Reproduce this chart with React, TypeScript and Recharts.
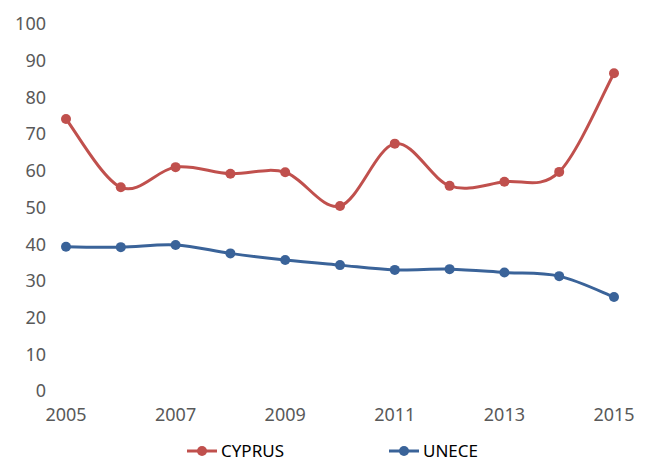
import React from "react";
import { LineChart, Line, XAxis, YAxis, Legend } from "recharts";

const years = [2005, 2006, 2007, 2008, 2009, 2010, 2011, 2012, 2013, 2014, 2015];
const cyprus = [74.1, 55.5, 61.0, 59.2, 59.6, 50.4, 67.4, 55.9, 57.0, 59.7, 86.6];
const unece = [39.3, 39.2, 39.8, 37.5, 35.7, 34.3, 33.0, 33.2, 32.3, 31.3, 25.6];
const xTicks = [2005, 2007, 2009, 2011, 2013, 2015];
const yTicks = [0, 10, 20, 30, 40, 50, 60, 70, 80, 90, 100];

const RED = "#C0504D";
const BLUE = "#3A6399";
const TEXT = "#595959";
const FONT = "'Noto Sans', sans-serif";

const points = years.map((year, i) => ({ year, CYPRUS: cyprus[i], UNECE: unece[i] }));

// Excel-style smoothed line (uniform Catmull-Rom as cubic bezier)
function smoothCurve(context: any) {
  let pts: [number, number][] = [];
  return {
    areaStart() {},
    areaEnd() {},
    lineStart() {
      pts = [];
    },
    point(x: number, y: number) {
      pts.push([+x, +y]);
    },
    lineEnd() {
      if (!pts.length) return;
      context.moveTo(pts[0][0], pts[0][1]);
      for (let i = 0; i < pts.length - 1; i++) {
        const p0 = pts[i - 1] || pts[i];
        const p1 = pts[i];
        const p2 = pts[i + 1];
        const p3 = pts[i + 2] || p2;
        context.bezierCurveTo(
          p1[0] + (p2[0] - p0[0]) / 6,
          p1[1] + (p2[1] - p0[1]) / 6,
          p2[0] - (p3[0] - p1[0]) / 6,
          p2[1] - (p3[1] - p1[1]) / 6,
          p2[0],
          p2[1]
        );
      }
    },
  };
}

const series = [
  { key: "CYPRUS", color: RED },
  { key: "UNECE", color: BLUE },
];

function LegendContent() {
  return (
    <div
      style={{
        display: "flex",
        alignItems: "center",
        paddingLeft: 186,
        fontFamily: FONT,
        fontSize: 17,
        color: "#000",
        whiteSpace: "nowrap",
      }}
    >
      {series.map((s, i) => (
        <span
          key={s.key}
          style={{ display: "inline-flex", alignItems: "center", marginLeft: i === 0 ? 0 : 104 }}
        >
          <svg width={32} height={12}>
            <line x1={1} y1={6} x2={31} y2={6} stroke={s.color} strokeWidth={3} />
            <circle cx={16} cy={6} r={5} fill={s.color} />
          </svg>
          <span style={{ marginLeft: 3 }}>{s.key}</span>
        </span>
      ))}
    </div>
  );
}

export default function App() {
  return (
    <div style={{ position: "absolute", left: 0, top: 0, width: 647, height: 463, background: "#fff" }}>
      <LineChart width={647} height={463} data={points} margin={{ top: 24, right: 33, bottom: 9, left: 0 }}>
        <XAxis
          dataKey="year"
          type="number"
          domain={[2005, 2015]}
          ticks={xTicks}
          axisLine={false}
          tickLine={false}
          tickMargin={11}
          height={40}
          tick={{ fill: TEXT, fontSize: 18, fontFamily: FONT }}
        />
        <YAxis
          domain={[0, 100]}
          ticks={yTicks}
          axisLine={false}
          tickLine={false}
          tickMargin={14}
          width={66}
          tick={{ fill: TEXT, fontSize: 18, fontFamily: FONT }}
        />
        <Legend
          verticalAlign="bottom"
          content={<LegendContent />}
          wrapperStyle={{ position: "absolute", top: 439, left: 0, width: 647 }}
        />
        {series.map((s) => (
          <Line
            key={s.key}
            dataKey={s.key}
            type={smoothCurve as any}
            stroke={s.color}
            strokeWidth={3}
            dot={{ r: 5, fill: s.color, stroke: s.color, strokeWidth: 0 }}
            activeDot={false}
            isAnimationActive={false}
          />
        ))}
      </LineChart>
    </div>
  );
}
